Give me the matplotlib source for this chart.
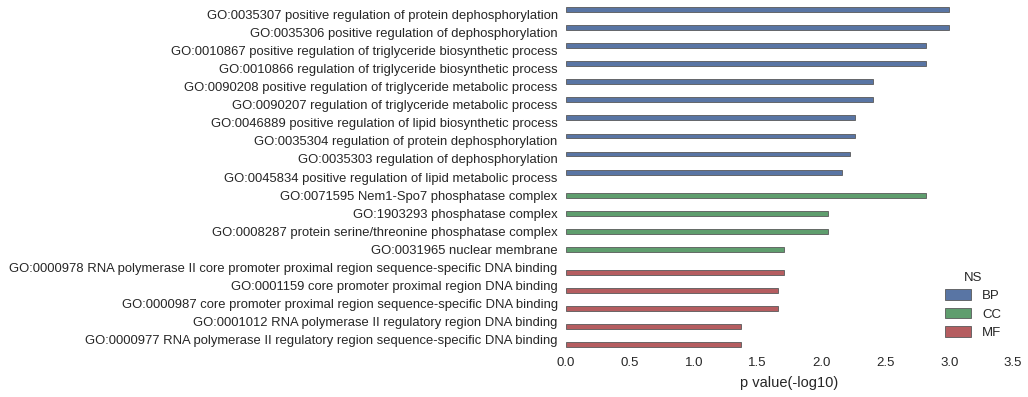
import numpy as np
import matplotlib
matplotlib.use("Agg")
import matplotlib.pyplot as plt
import seaborn as sns

terms = [
    "GO:0035307 positive regulation of protein dephosphorylation",
    "GO:0035306 positive regulation of dephosphorylation",
    "GO:0010867 positive regulation of triglyceride biosynthetic process",
    "GO:0010866 regulation of triglyceride biosynthetic process",
    "GO:0090208 positive regulation of triglyceride metabolic process",
    "GO:0090207 regulation of triglyceride metabolic process",
    "GO:0046889 positive regulation of lipid biosynthetic process",
    "GO:0035304 regulation of protein dephosphorylation",
    "GO:0035303 regulation of dephosphorylation",
    "GO:0045834 positive regulation of lipid metabolic process",
    "GO:0071595 Nem1-Spo7 phosphatase complex",
    "GO:1903293 phosphatase complex",
    "GO:0008287 protein serine/threonine phosphatase complex",
    "GO:0031965 nuclear membrane",
    "GO:0000978 RNA polymerase II core promoter proximal region sequence-specific DNA binding",
    "GO:0001159 core promoter proximal region DNA binding",
    "GO:0000987 core promoter proximal region sequence-specific DNA binding",
    "GO:0001012 RNA polymerase II regulatory region DNA binding",
    "GO:0000977 RNA polymerase II regulatory region sequence-specific DNA binding",
]
pvals = [3.00, 3.00, 2.82, 2.82, 2.40, 2.40, 2.26, 2.26, 2.22, 2.16,
         2.82, 2.05, 2.05, 1.71,
         1.71, 1.66, 1.66, 1.37, 1.37]
ns = ["BP"] * 10 + ["CC"] * 4 + ["MF"] * 5
ns_order = ["BP", "CC", "MF"]
ns_colors = ["#4C72B0", "#55A868", "#C44E52"]

sns.set_style("white")
plt.rcParams['font.family'] = ['Liberation Sans', 'DejaVu Sans']
plt.rcParams['text.color'] = '.15'
plt.rcParams['xtick.color'] = '.15'
plt.rcParams['ytick.color'] = '.15'
plt.rcParams['axes.labelcolor'] = '.15'

fig = plt.figure(figsize=(10.28, 3.97), dpi=100)
ax = fig.add_axes([566 / 1028, 1 - 349 / 397, 447 / 1028, 344 / 397])

n_hue = len(ns_order)
width = 0.8 / n_hue
y = np.arange(len(terms))
for i, (name, col) in enumerate(zip(ns_order, ns_colors)):
    mask = np.array([n == name for n in ns])
    offset = -0.4 + width * (i + 0.5)
    ax.barh(y[mask] + offset, np.array(pvals)[mask], height=width,
            color=sns.desaturate(col, 0.75), edgecolor='0.35', linewidth=0.6,
            label=name)

ax.set_yticks(y)
ax.set_yticklabels(terms, fontsize=9.4)
ax.set_ylim(len(terms) - 0.5, -0.5)
ax.set_xlim(0, 3.5)
ax.set_xticks(np.arange(0, 3.51, 0.5))
ax.set_xticklabels([f"{v:.1f}" for v in np.arange(0, 3.51, 0.5)], fontsize=9.5)
ax.set_xlabel("p value(-log10)", fontsize=10.5, labelpad=5)
ax.tick_params(axis='both', length=0, pad=6)
for s in ax.spines.values():
    s.set_visible(False)

leg = ax.legend(title="NS", loc='lower right', bbox_to_anchor=(1.0, -0.005),
                frameon=False, fontsize=9.5, title_fontsize=9.5,
                handlelength=2.0, handleheight=0.9, labelspacing=0.4)

fig.savefig("out.png", dpi=100)
